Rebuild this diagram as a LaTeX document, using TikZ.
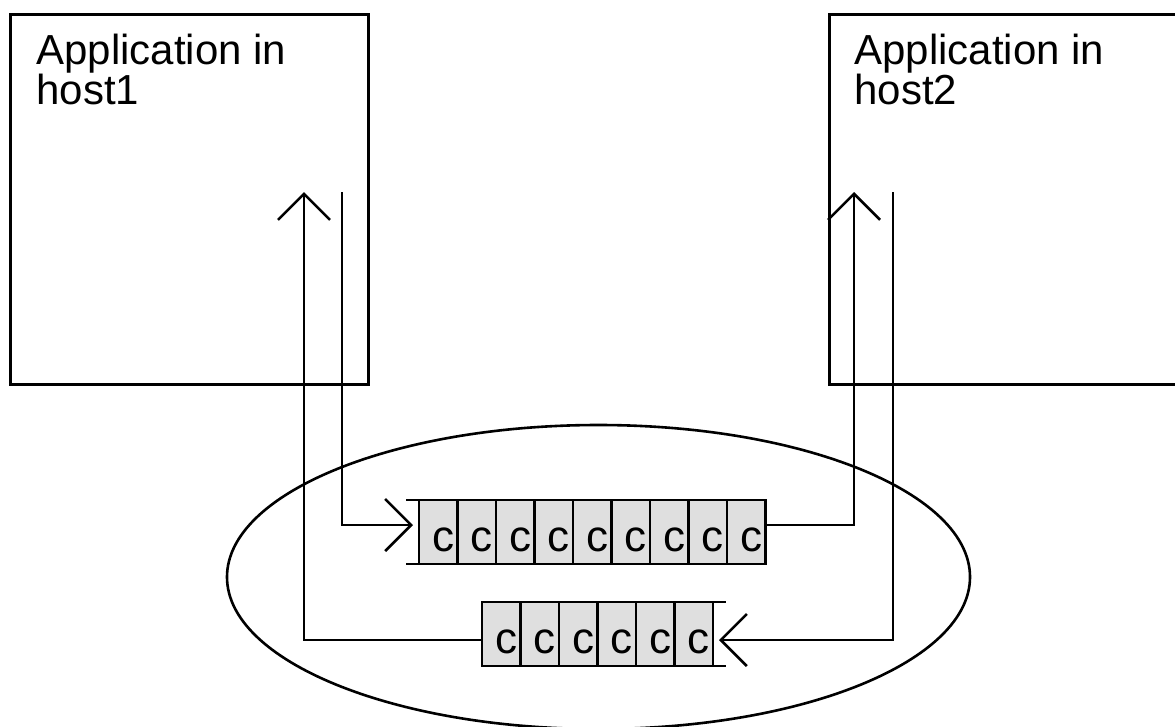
\documentclass[tikz,border=0pt]{standalone}
\usepackage{fontspec}
\setmainfont{Liberation Sans}
\usetikzlibrary{arrows.meta}
\usetikzlibrary{positioning}
\usetikzlibrary{shapes.geometric}
\definecolor{cellgray}{gray}{0.875}

\begin{document}
\begin{tikzpicture}
    [%
        x=1pt,y=-1pt,%
        line width=2.6pt,%
        host box/.style={%
            draw,%
            rectangle,%
            anchor=north west,%
            minimum width=358pt,%
            minimum height=370pt,%
            inner sep=0pt%
        },%
        host title/.style={%
            anchor=north west,%
            align=left,%
            inner sep=0pt,%
            font=\fontsize{42pt}{39pt}\selectfont%
        },%
        cell/.style={%
            draw,%
            fill=cellgray,%
            anchor=north west,%
            minimum width=38.5pt,%
            minimum height=64pt,%
            inner sep=0pt,%
            outer sep=0pt%
        },%
        cell letter/.style={%
            anchor=base east,%
            inner sep=0pt,%
            font=\fontsize{44pt}{44pt}\selectfont%
        },%
        flow/.style={%
            -{Straight Barb[length=26pt,width=52pt]}%
        },%
        into queue/.style={%
            flow,%
            shorten >=-7pt%
        }%
    ]%
    \useasboundingbox (0,0) rectangle (1175,726);
%
    % the network between the two hosts
    \node[draw,ellipse,minimum width=743pt,minimum height=304pt] (network) at (598.5,577) {};
%
    \node[host box] (host1) at (9,13) {};
    \node[host title] (host1-title) at ([xshift=26pt,yshift=-20pt]host1.north west) {Application in\\host1};
    \node[host box] (host2) at (828,13) {};
    \node[host title] (host2-title) at ([xshift=25pt,yshift=-20pt]host2.north west) {Application in\\host2};
%
    % queue from host1 to host2
    \foreach \k in {1,2,...,9} {
        \node[cell] (q1-\k) at ({419+(\k-1)*38.5},500) {};
        \node[cell letter] (q1-c\k) at ([xshift=-2pt,yshift=13pt]q1-\k.south east) {c};
    }
    \draw ([xshift=-13pt]q1-1.north west) -- (q1-1.north west);
    \draw ([xshift=-13pt]q1-1.south west) -- (q1-1.south west);
%
    % queue from host2 to host1
    \foreach \k in {1,2,...,6} {
        \node[cell] (q2-\k) at ({482+(\k-1)*38.5},602) {};
        \node[cell letter] (q2-c\k) at ([xshift=-2pt,yshift=13pt]q2-\k.south east) {c};
    }
    \draw (q2-6.north east) -- ([xshift=13pt]q2-6.north east);
    \draw (q2-6.south east) -- ([xshift=13pt]q2-6.south east);
%
    % ports inside the applications
    \coordinate (host1-in) at (304,192);
    \coordinate (host1-out) at (342,192);
    \coordinate (host2-in) at (854,192);
    \coordinate (host2-out) at (893,192);
%
    \draw[into queue] (host1-out) |- ([xshift=-13pt,yshift=7pt]q1-1.west);
    \draw[flow] ([yshift=7pt]q1-9.east) -| (host2-in);
    \draw[into queue] (host2-out) |- ([xshift=13pt,yshift=-6pt]q2-6.east);
    \draw[flow] ([yshift=-6pt]q2-1.west) -| (host1-in);
\end{tikzpicture}
\end{document}
